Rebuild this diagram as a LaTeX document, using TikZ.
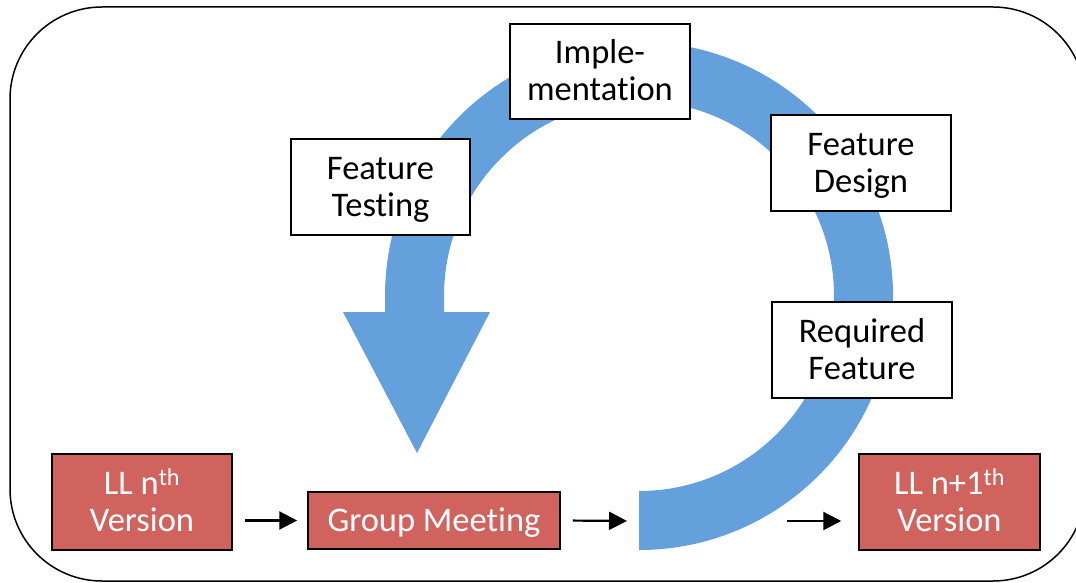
\documentclass[tikz,border=0pt]{standalone}
\usepackage{fontspec}
\setmainfont{Carlito}[Ligatures={NoCommon,NoContextual},Contextuals={NoAlternate}]
\usetikzlibrary{arrows.meta}
\definecolor{ringblue}{RGB}{100,160,220}
\definecolor{boxred}{RGB}{209,99,95}
\newcommand\capln[1]{\rule{0pt}{22pt}\smash{#1}}
\begin{document}
\begin{tikzpicture}[x=1pt,y=-1pt,
  txt/.style={align=center, inner sep=0pt, line width=1.5pt, draw=black,
    font=\fontsize{34.5}{37}\selectfont},
  whitebox/.style={txt, fill=white, text=black, minimum width=180pt, minimum height=96pt},
  redbox/.style={txt, fill=boxred, text=white},
  conn/.style={line width=2.2pt, -{Triangle[length=18pt,width=18pt]}}
]
\useasboundingbox (0,0) rectangle (1076,583);
\begin{scope}
  \clip (0,0) rectangle (1076,583);
  \draw[line width=1.5pt, rounded corners=92pt] (10,7) rectangle (1085,581);
\end{scope}
% circular arrow
\fill[ringblue] (639,550) arc[start angle=90, end angle=-180, radius=254]
  -- (385,312) -- (343,312) -- (417,453) -- (490,312) -- (444,312) -- (444,296)
  arc[start angle=-180, end angle=90, radius=195] -- cycle;
% boxes
\node[whitebox, minimum height=95pt] (impl) at (600,71.5) {\capln{Imple-}\\\capln{mentation}};
\node[whitebox, minimum width=179pt] (test) at (380.5,187) {\capln{Feature}\\\capln{Testing}};
\node[whitebox] (design) at (861,163) {\capln{Feature}\\\capln{Design}};
\node[whitebox] (req) at (862,350) {\capln{Required}\\\capln{Feature}};
\node[redbox, minimum width=180pt, minimum height=96pt] (ver1) at (142,502) {\capln{LL n\textsuperscript{th}}\\\capln{Version}};
\node[redbox, minimum width=252pt, minimum height=57pt] (meet) at (434,520.5) {\capln{Group Meeting}};
\node[redbox, minimum width=181pt, minimum height=96pt] (ver2) at (949.5,502) {\capln{LL n+1\textsuperscript{th}}\\\capln{Version}};
% connectors
\coordinate (ringend) at (636,521);
\coordinate (nextstart) at (787,521);
\draw[conn, shorten <=12pt, shorten >=10pt] (ver1.east |- meet.west) -- (meet.west);
\draw[conn, shorten <=12pt, shorten >=9pt] (meet.east) -- (ringend);
\draw[conn, shorten >=17pt] (nextstart) -- (ver2.west |- nextstart);
\end{tikzpicture}
\end{document}
